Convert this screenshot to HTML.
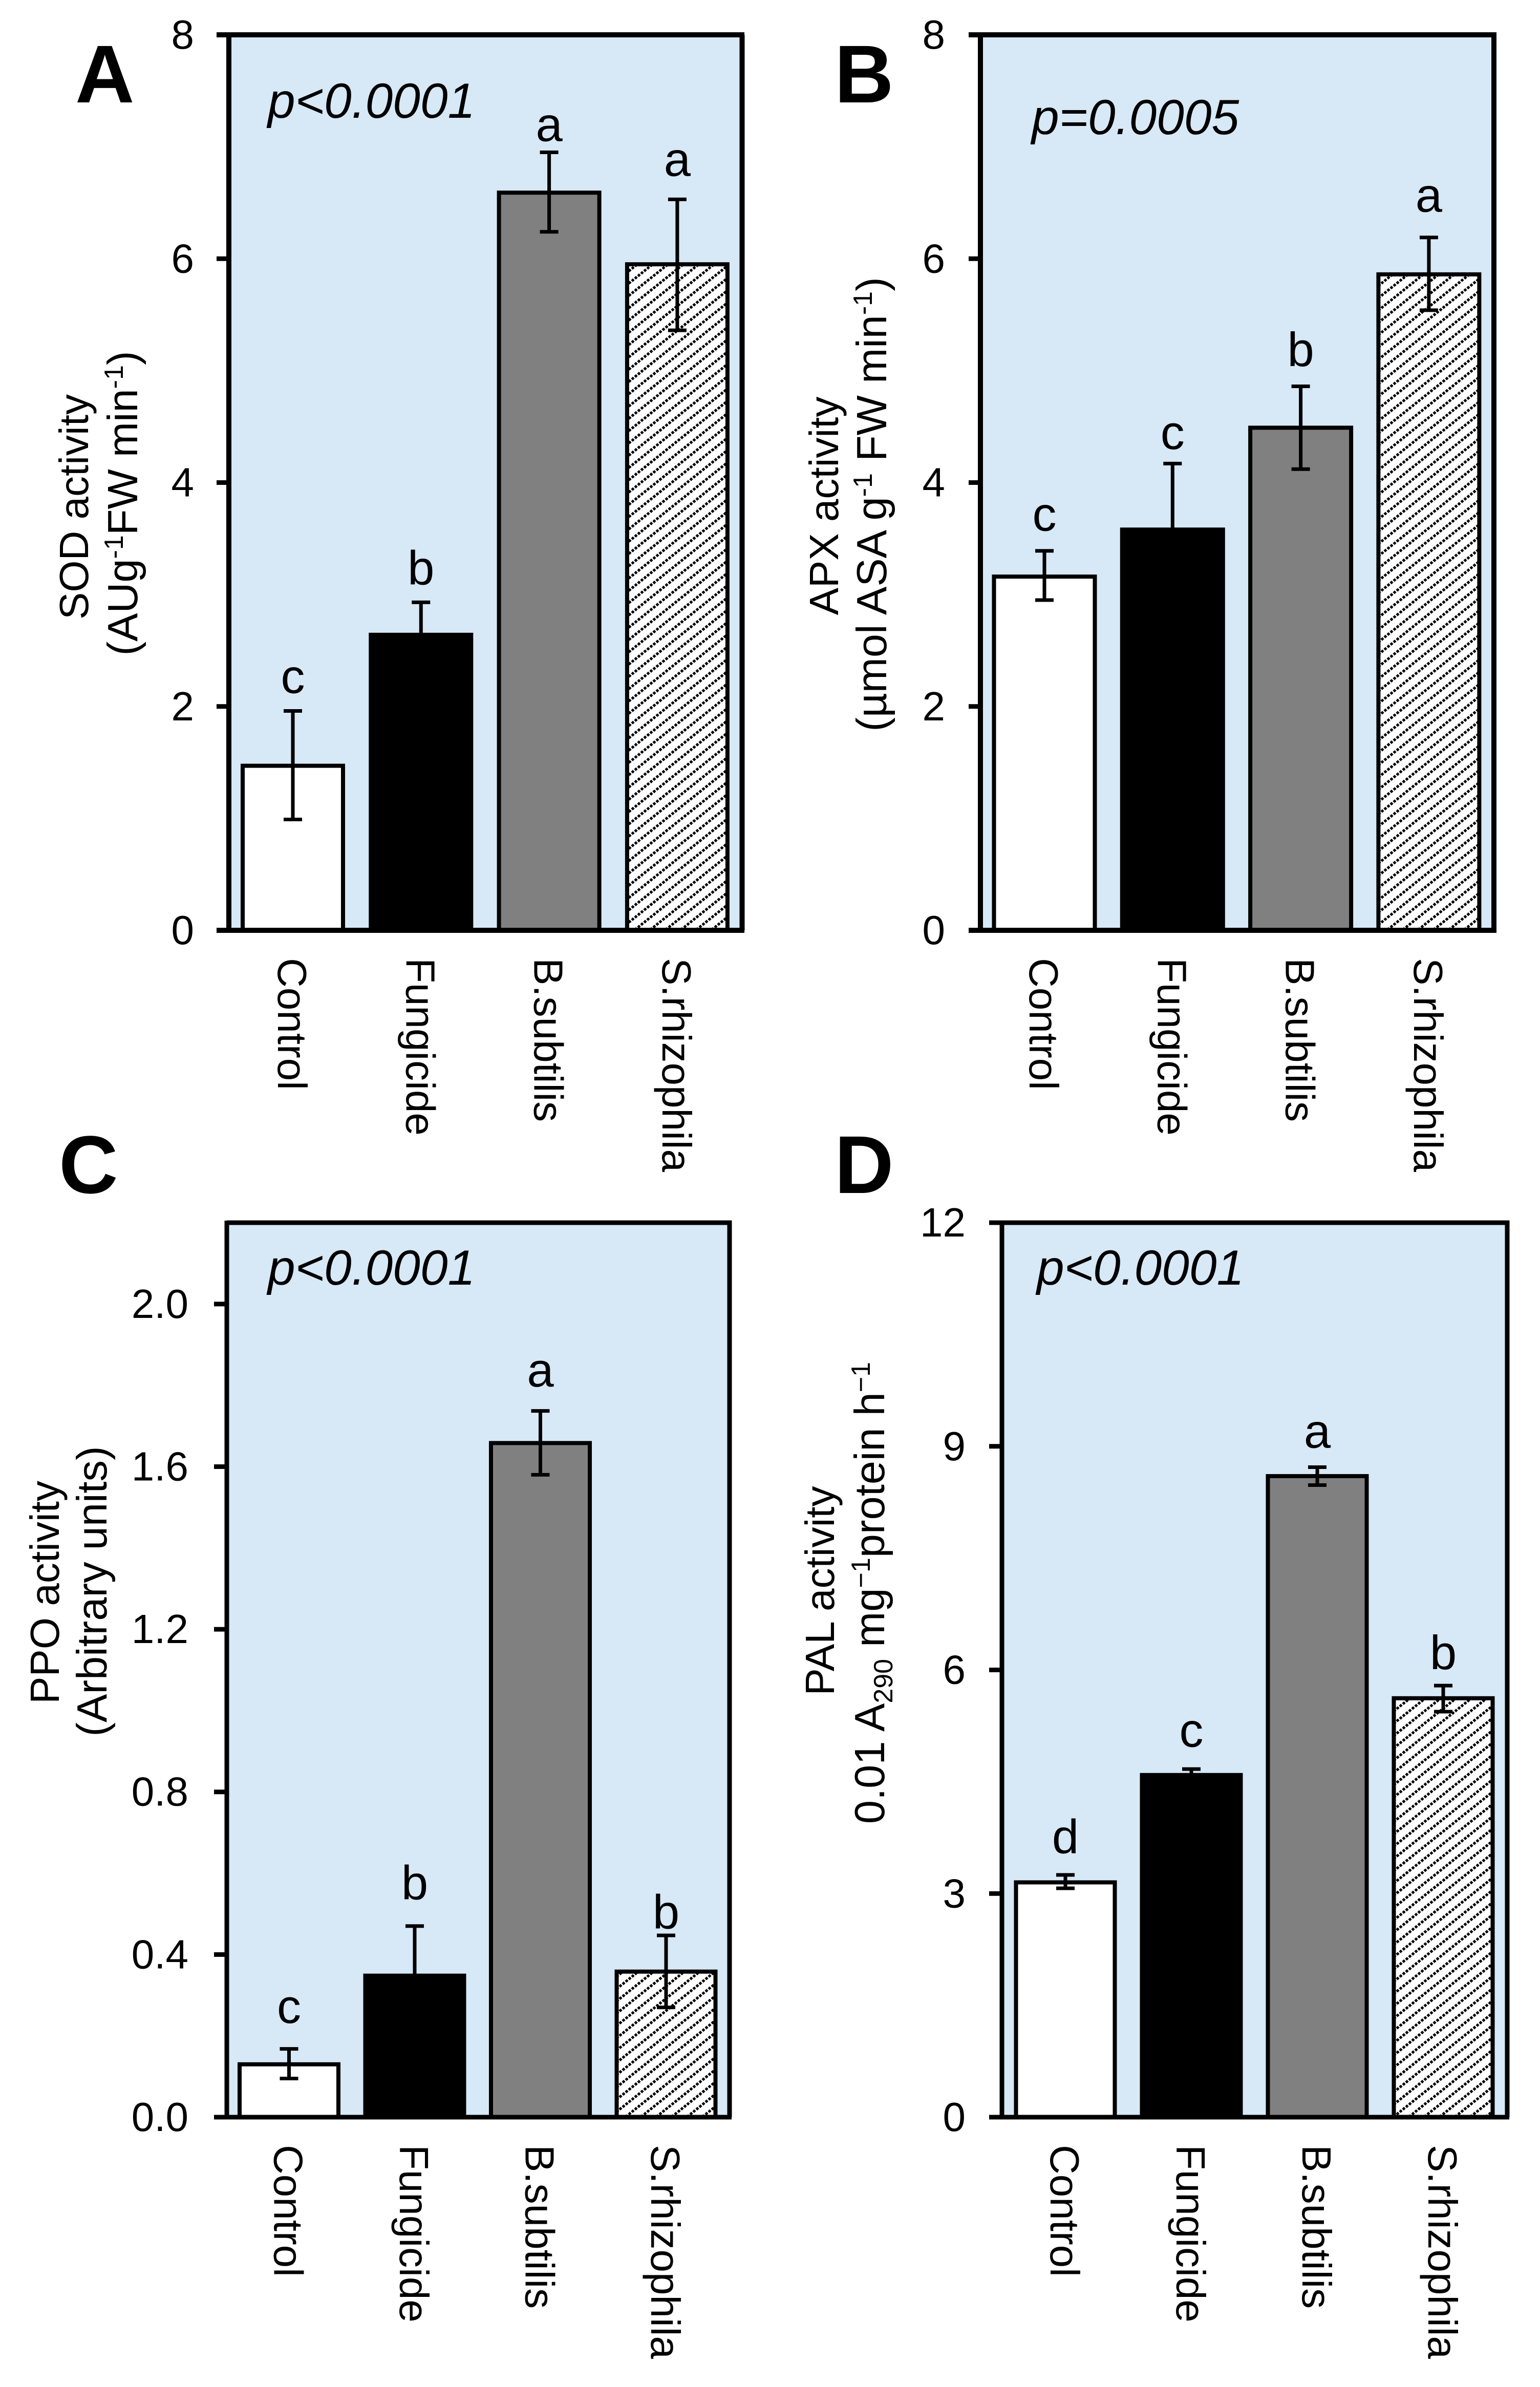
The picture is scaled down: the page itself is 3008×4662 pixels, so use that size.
<!DOCTYPE html>
<html lang="en">
<head>
<meta charset="utf-8">
<title>Enzyme activity bar charts</title>
<style>
html,body{margin:0;padding:0;background:#fff;width:3008px;height:4662px;overflow:hidden}
svg{display:block}
text{font-family:"Liberation Sans",Arial,sans-serif;fill:#000}
.t{font-size:80px}
.u{font-size:83px}
.g{font-size:94px}
.p{font-size:96.5px;font-style:italic}
.l{font-size:160px;font-weight:bold}
.s{font-size:52px}
</style>
</head>
<body>
<svg id="fig" xmlns="http://www.w3.org/2000/svg" width="3008" height="4662" viewBox="0 0 3008 4662">
<defs>
<pattern id="hatch" patternUnits="userSpaceOnUse" width="30" height="24">
<rect width="30" height="24" fill="#fff"/>
<g fill="#000">
<path d="M0 20.4L3.6 24L0 27.6L-3.6 24Z"/>
<path d="M0 -3.6L3.6 0L0 3.6L-3.6 0Z"/>
<path d="M6 15.6L9.6 19.2L6 22.8L2.4 19.2Z"/>
<path d="M12 10.8L15.6 14.4L12 18L8.4 14.4Z"/>
<path d="M18 6L21.6 9.6L18 13.2L14.4 9.6Z"/>
<path d="M24 1.2L27.6 4.8L24 8.4L20.4 4.8Z"/>
<path d="M30 -3.6L33.6 0L30 3.6L26.4 0Z"/>
<path d="M30 20.4L33.6 24L30 27.6L26.4 24Z"/>
</g>
</pattern>
</defs>

<g id="panel-a">
<rect x="447" y="68" width="1002" height="1749" fill="#d7e8f6"/>
<g class="marks"></g>
<path d="M423 68H1454M447 68V1817M1449.5 68V1817M423 1817H1454" fill="none" stroke="#000" stroke-width="10"/>
<text class="l" x="147" y="200">A</text>
<text class="p" x="523" y="230">p&lt;0.0001</text>
<text class="t" text-anchor="middle" transform="translate(172 990) rotate(-90)">SOD activity</text>
<text class="u" text-anchor="middle" transform="translate(268 983) rotate(-90)">(AUg<tspan class="s" dy="-28">-1</tspan><tspan dy="28">FW min</tspan><tspan class="s" dy="-28">-1</tspan><tspan dy="28">)</tspan></text>
</g>

<g id="panel-b">
<rect x="1915" y="68" width="1003" height="1749" fill="#d7e8f6"/>
<g class="marks"></g>
<path d="M1892 68H2923M1915 68V1817M2918 68V1817M1892 1817H2923" fill="none" stroke="#000" stroke-width="10"/>
<text class="l" x="1630" y="200">B</text>
<text class="p" x="2015" y="262">p=0.0005</text>
<text class="t" text-anchor="middle" transform="translate(1637 988) rotate(-90)">APX activity</text>
<text class="u" text-anchor="middle" transform="translate(1731 985) rotate(-90)">(µmol ASA g<tspan class="s" dy="-28">-1</tspan><tspan dy="28"> FW min</tspan><tspan class="s" dy="-28">-1</tspan><tspan dy="28">)</tspan></text>
</g>

<g id="panel-c">
<rect x="443" y="2388" width="982" height="1747" fill="#d7e8f6"/>
<g class="marks"></g>
<path d="M443 2388H1429M443 2384V4135M1425 2384V4135M418 4135H1429" fill="none" stroke="#000" stroke-width="9"/>
<text class="l" x="115" y="2330">C</text>
<text class="p" x="523" y="2509">p&lt;0.0001</text>
<text class="t" text-anchor="middle" transform="translate(115 3110) rotate(-90)">PPO activity</text>
<text class="u" text-anchor="middle" transform="translate(208 3108) rotate(-90)">(Arbitrary units)</text>
</g>

<g id="panel-d">
<rect x="1957" y="2388" width="987" height="1747" fill="#d7e8f6"/>
<g class="marks"></g>
<path d="M1957 2388H2948M1957 2384V4135M2944 2384V4135M1932 4135H2948" fill="none" stroke="#000" stroke-width="9"/>
<text class="l" x="1630" y="2330">D</text>
<text class="p" x="2025" y="2509">p&lt;0.0001</text>
<text class="t" text-anchor="middle" transform="translate(1629 3107) rotate(-90)">PAL activity</text>
<text class="u" text-anchor="middle" transform="translate(1727 3111) rotate(-90)">0.01 A<tspan class="s" dy="16">290</tspan><tspan dy="-16"> mg</tspan><tspan class="s" dy="-28">−1</tspan><tspan dy="28">protein h</tspan><tspan class="s" dy="-28">−1</tspan></text>
</g>
</svg>

<script>
const categories = ['Control', 'Fungicide', 'B.subtilis', 'S.rhizophila'];

const sodValues = [1.47, 2.64, 6.59, 5.95];
const sodHigh = [1.96, 2.93, 6.95, 6.53];
const sodLow = [0.99, 2.35, 6.24, 5.36];
const sodLetters = ['c', 'b', 'a', 'a'];
const sodLetterLevels = [2.12, 3.09, 7.05, 6.74];
const sodTicks = ['0', '2', '4', '6', '8'];

const apxValues = [3.16, 3.58, 4.49, 5.86];
const apxHigh = [3.39, 4.17, 4.86, 6.19];
const apxLow = [2.95, 3.0, 4.12, 5.54];
const apxLetters = ['c', 'c', 'b', 'a'];
const apxLetterLevels = [3.57, 4.30, 5.04, 6.42];
const apxTicks = ['0', '2', '4', '6', '8'];

const ppoValues = [0.13, 0.348, 1.658, 0.358];
const ppoHigh = [0.168, 0.47, 1.737, 0.447];
const ppoLow = [0.095, 0.23, 1.58, 0.27];
const ppoLetters = ['c', 'b', 'a', 'b'];
const ppoLetterLevels = [0.232, 0.536, 1.797, 0.464];
const ppoTicks = ['0.0', '0.4', '0.8', '1.2', '1.6', '2.0'];

const palValues = [3.15, 4.59, 8.60, 5.62];
const palHigh = [3.25, 4.67, 8.72, 5.79];
const palLow = [3.07, 4.51, 8.48, 5.44];
const palLetters = ['d', 'c', 'a', 'b'];
const palLetterLevels = [3.54, 4.97, 8.98, 6.01];
const palTicks = ['0', '3', '6', '9', '12'];

const SVGNS = 'http://www.w3.org/2000/svg';
const fills = ['#ffffff', '#000000', '#808080', 'url(#hatch)'];

function make(parent, tag, attrs, txt) {
  const el = document.createElementNS(SVGNS, tag);
  for (const k in attrs) el.setAttribute(k, attrs[k]);
  if (txt !== undefined) el.textContent = txt;
  parent.appendChild(el);
  return el;
}

function drawPanel(id, frame, yMax, ticks, values, high, low, letters, levels) {
  const panel = document.getElementById(id);
  const marks = panel.querySelector('.marks');
  const yScale = v => frame.bottom - v * (frame.bottom - frame.top) / yMax;
  const xScale = i => frame.firstCenter + i * frame.step;

  ticks.forEach(t => {
    const y = yScale(parseFloat(t));
    const mark = make(panel, 'line', { x1: frame.tickLeft, x2: frame.axis, y1: y, y2: y, stroke: '#000', 'stroke-width': 9 });
    
    
    const label = make(panel, 'text', { class: 't', x: frame.tickLeft - frame.labelGap, y: y + 27, 'text-anchor': 'end' }, t);
    
    
  });

  categories.forEach((cat, i) => {
    const cx = xScale(i);
    const key = cat.toLowerCase().replace('.', '-');
    const top = yScale(values[i]);
    const bar = make(marks, 'rect', { x: cx - frame.barWidth / 2, y: top, width: frame.barWidth, height: frame.bottom - top, fill: fills[i], stroke: '#000', 'stroke-width': 8 });
    
    

    const yHigh = yScale(high[i]);
    const yLow = yScale(low[i]);
    const err = make(marks, 'path', { d: 'M' + (cx - 18) + ' ' + yHigh + 'H' + (cx + 18) + 'M' + cx + ' ' + yHigh + 'V' + yLow + 'M' + (cx - 18) + ' ' + yLow + 'H' + (cx + 18), fill: 'none', stroke: '#000', 'stroke-width': 7 });
    
    

    const sig = make(panel, 'text', { class: 'g', x: cx, y: yScale(levels[i]), 'text-anchor': 'middle' }, letters[i]);
    
    

    const catLabel = make(panel, 'text', { class: 't', transform: 'translate(' + (cx - 29) + ' ' + (frame.bottom + 54) + ') rotate(90)' }, cat);
    
    
  });
}

drawPanel('panel-a', { top: 68, bottom: 1817, axis: 447, tickLeft: 423, labelGap: 44, firstCenter: 572, step: 250.3, barWidth: 196 }, 8, sodTicks, sodValues, sodHigh, sodLow, sodLetters, sodLetterLevels);
drawPanel('panel-b', { top: 68, bottom: 1817, axis: 1915, tickLeft: 1892, labelGap: 46, firstCenter: 2040, step: 250.3, barWidth: 197 }, 8, apxTicks, apxValues, apxHigh, apxLow, apxLetters, apxLetterLevels);
drawPanel('panel-c', { top: 2388, bottom: 4135, axis: 443, tickLeft: 418, labelGap: 50, firstCenter: 564.5, step: 245.5, barWidth: 193 }, 2.2, ppoTicks, ppoValues, ppoHigh, ppoLow, ppoLetters, ppoLetterLevels);
drawPanel('panel-d', { top: 2388, bottom: 4135, axis: 1957, tickLeft: 1932, labelGap: 46, firstCenter: 2081, step: 246, barWidth: 193 }, 12, palTicks, palValues, palHigh, palLow, palLetters, palLetterLevels);
</script>
</body>
</html>
